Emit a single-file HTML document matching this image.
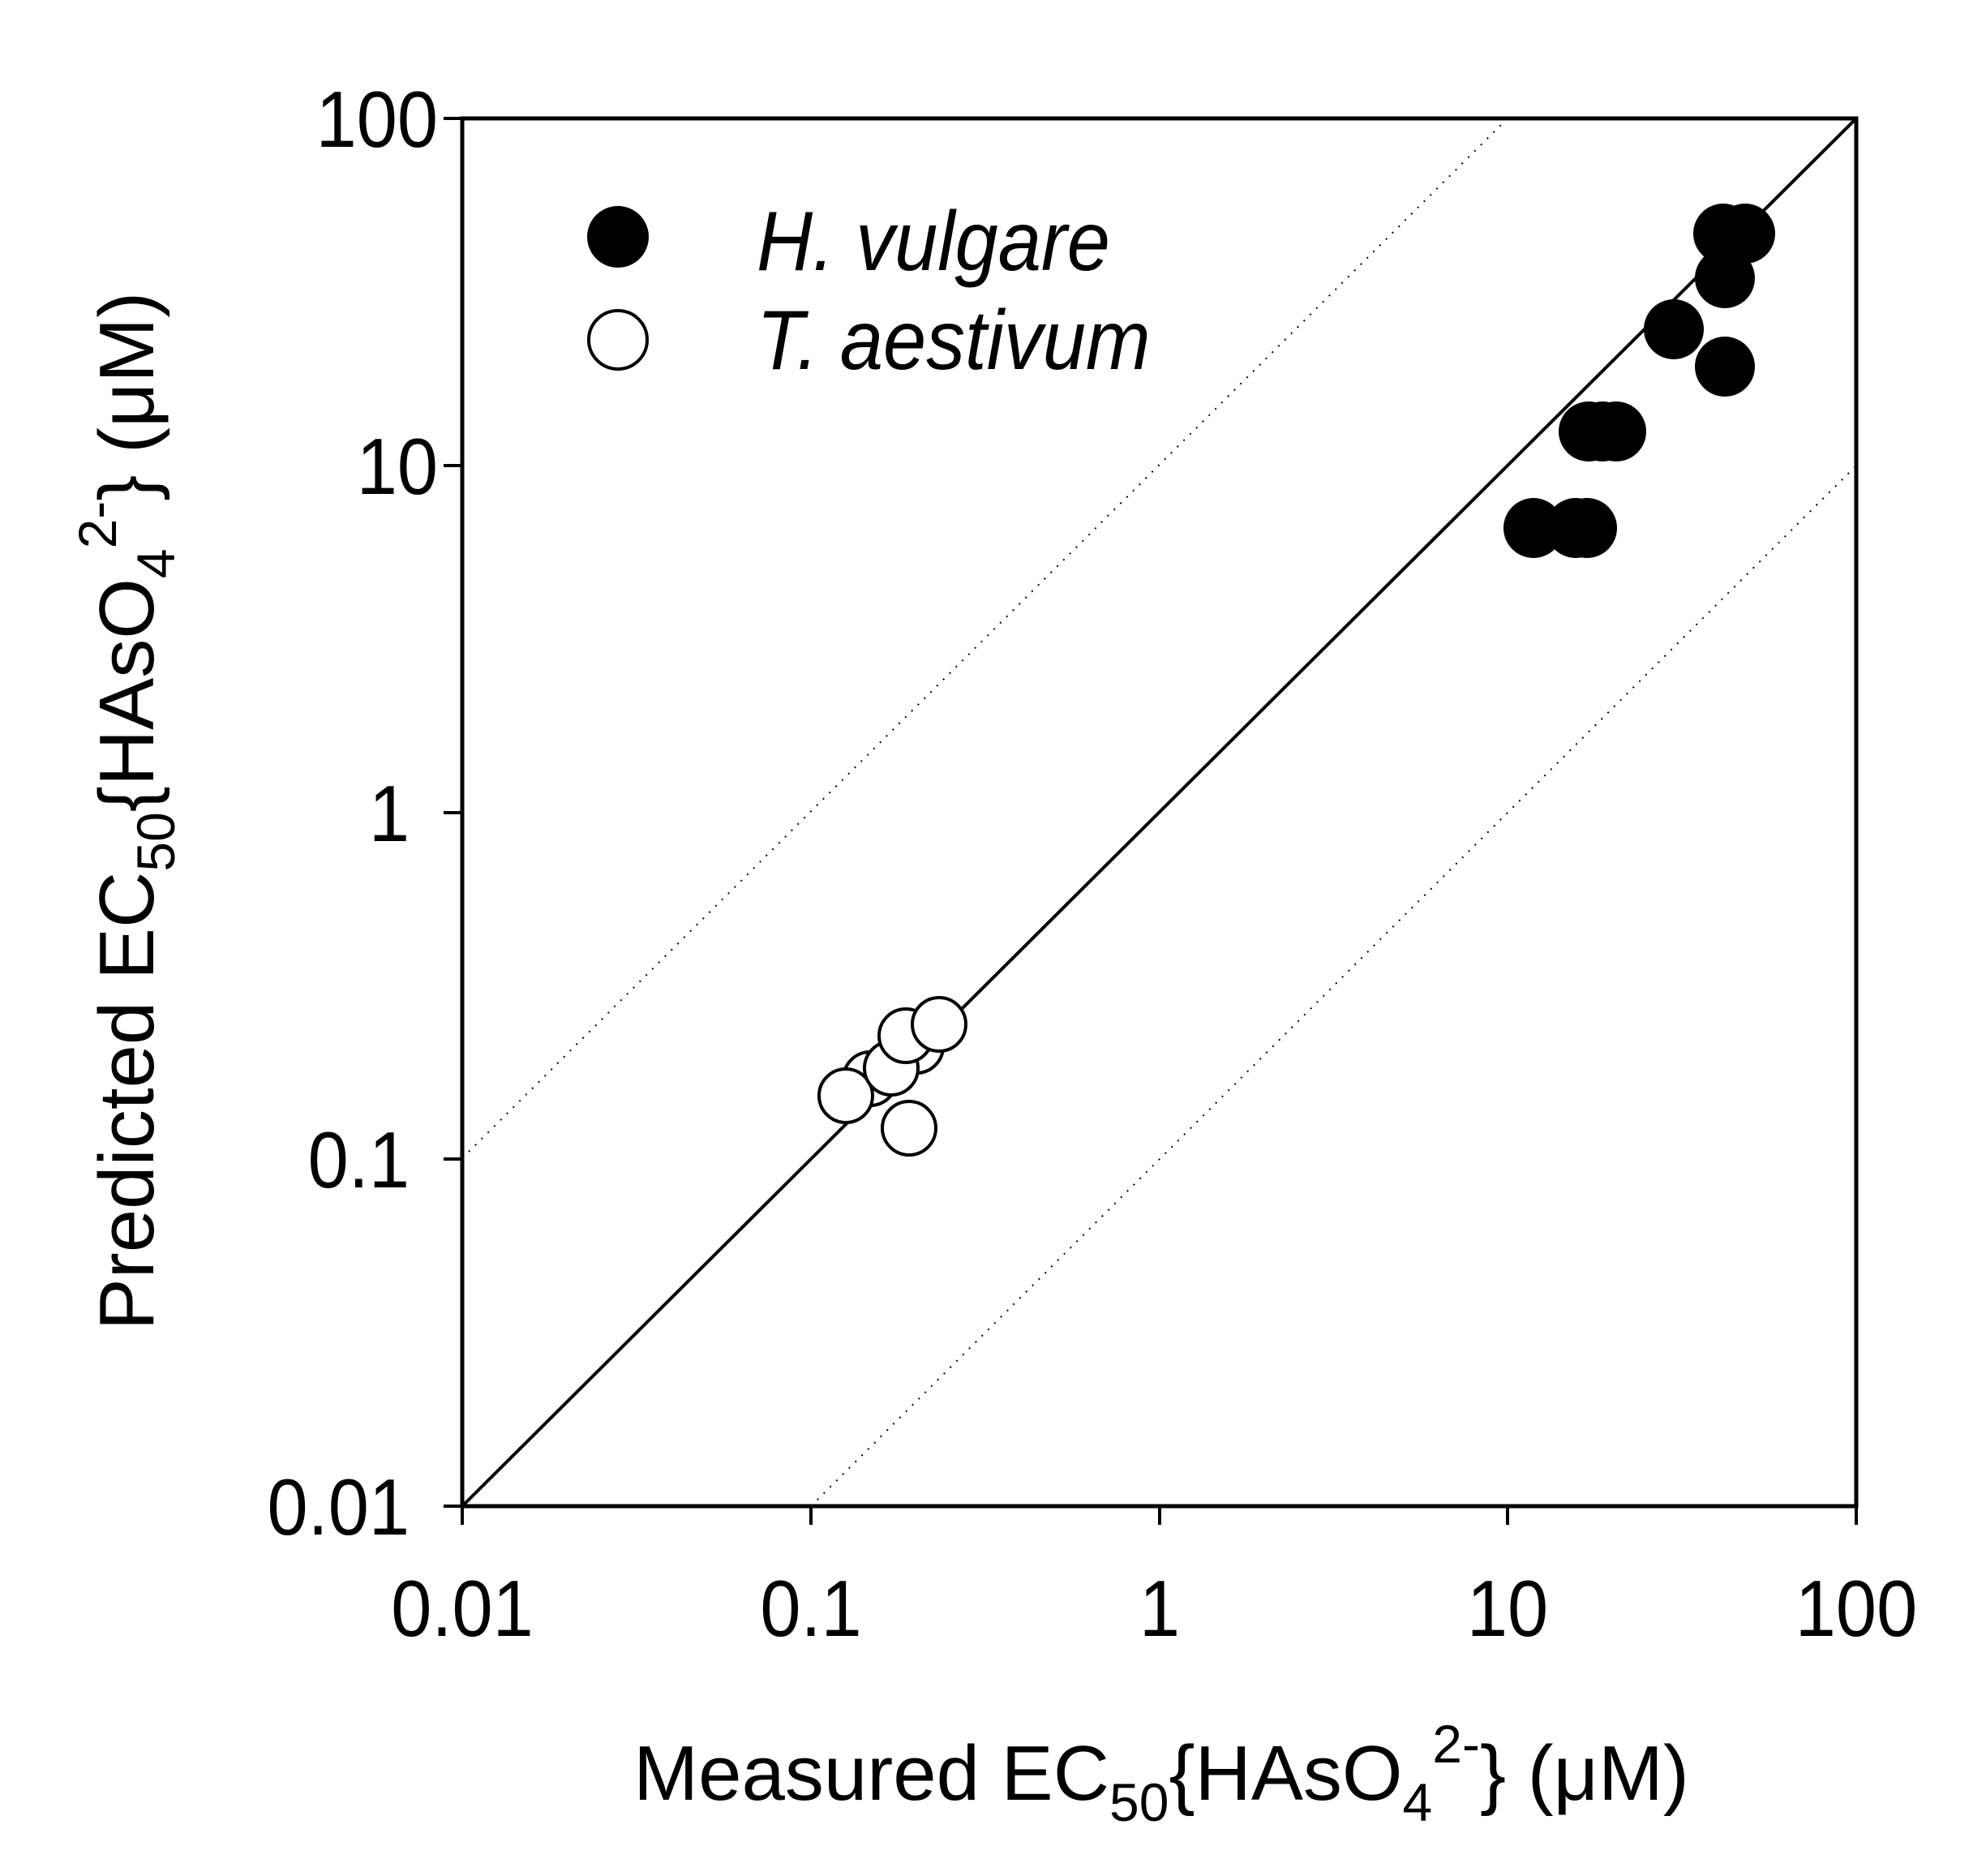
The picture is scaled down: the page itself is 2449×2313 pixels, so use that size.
<!DOCTYPE html>
<html><head><meta charset="utf-8"><style>
html,body{margin:0;padding:0;background:#fff;}
svg{display:block;}
text{font-family:"Liberation Sans",Arial,sans-serif;fill:#000;}
</style></head><body>
<svg width="2449" height="2313" viewBox="0 0 2449 2313" xmlns="http://www.w3.org/2000/svg">
<rect width="2449" height="2313" fill="#fff"/>
<line x1="578" y1="1420" x2="1859" y2="146" stroke="#000" stroke-width="2" stroke-dasharray="2,9"/>
<line x1="1000" y1="1857" x2="2289" y2="574" stroke="#000" stroke-width="2" stroke-dasharray="2,9"/>
<line x1="570" y1="1857" x2="2289" y2="146" stroke="#000" stroke-width="4"/>
<rect x="570" y="146" width="1719" height="1711" fill="none" stroke="#000" stroke-width="5"/>
<g stroke="#000" stroke-width="4">
<line x1="570" y1="1857" x2="570" y2="1880"/>
<line x1="1000" y1="1857" x2="1000" y2="1880"/>
<line x1="1430" y1="1857" x2="1430" y2="1880"/>
<line x1="1859" y1="1857" x2="1859" y2="1880"/>
<line x1="2289" y1="1857" x2="2289" y2="1880"/>
<line x1="547" y1="146" x2="570" y2="146"/>
<line x1="547" y1="574" x2="570" y2="574"/>
<line x1="547" y1="1002" x2="570" y2="1002"/>
<line x1="547" y1="1429" x2="570" y2="1429"/>
<line x1="547" y1="1857" x2="570" y2="1857"/>
</g>
<g font-size="98" text-anchor="end">
<text transform="translate(540,181) scale(0.92,1)">100</text>
<text transform="translate(540,609) scale(0.92,1)">10</text>
<text transform="translate(505,1037) scale(0.92,1)">1</text>
<text transform="translate(505,1464) scale(0.92,1)">0.1</text>
<text transform="translate(505,1892) scale(0.92,1)">0.01</text>
</g>
<g font-size="98" text-anchor="middle">
<text transform="translate(570,2017) scale(0.92,1)">0.01</text>
<text transform="translate(1000,2017) scale(0.92,1)">0.1</text>
<text transform="translate(1430,2017) scale(0.92,1)">1</text>
<text transform="translate(1859,2017) scale(0.92,1)">10</text>
<text transform="translate(2289,2017) scale(0.92,1)">100</text>
</g>
<text x="1432" y="2219" font-size="96" text-anchor="middle">Measured EC<tspan font-size="66" dy="26">50</tspan><tspan dy="-26">{HAsO</tspan><tspan font-size="66" dy="26">4</tspan><tspan font-size="66" dy="-72">2-</tspan><tspan dy="46">} (μM)</tspan></text>
<text transform="translate(189,1000) rotate(-90)" font-size="96" text-anchor="middle">Predicted EC<tspan font-size="66" dy="26">50</tspan><tspan dy="-26">{HAsO</tspan><tspan font-size="66" dy="26">4</tspan><tspan font-size="66" dy="-72">2-</tspan><tspan dy="46">} (μM)</tspan></text>
<circle cx="762" cy="292" r="38" fill="#000"/>
<circle cx="762" cy="419" r="36" fill="#fff" stroke="#000" stroke-width="4"/>
<text transform="translate(933,333) scale(0.92,1)" font-size="104" font-style="italic">H. vulgare</text>
<text transform="translate(933,455) scale(0.92,1)" font-size="104" font-style="italic">T. aestivum</text>
<g fill="#000">
<circle cx="2125" cy="288" r="37"/>
<circle cx="2152" cy="288" r="37"/>
<circle cx="2127" cy="343" r="37"/>
<circle cx="2064" cy="406" r="37"/>
<circle cx="2127" cy="452" r="37"/>
<circle cx="1959" cy="532" r="37"/>
<circle cx="1976" cy="532" r="37"/>
<circle cx="1993" cy="532" r="37"/>
<circle cx="1891" cy="651" r="37"/>
<circle cx="1943" cy="651" r="37"/>
<circle cx="1957" cy="651" r="37"/>
</g>
<g fill="#fff" stroke="#000" stroke-width="4">
<circle cx="1073" cy="1330" r="33"/>
<circle cx="1130" cy="1290" r="33"/>
<circle cx="1043" cy="1351" r="33"/>
<circle cx="1099" cy="1317" r="33"/>
<circle cx="1117" cy="1277" r="33"/>
<circle cx="1158" cy="1263" r="33"/>
<circle cx="1121" cy="1391" r="33"/>
</g>
</svg>
</body></html>
